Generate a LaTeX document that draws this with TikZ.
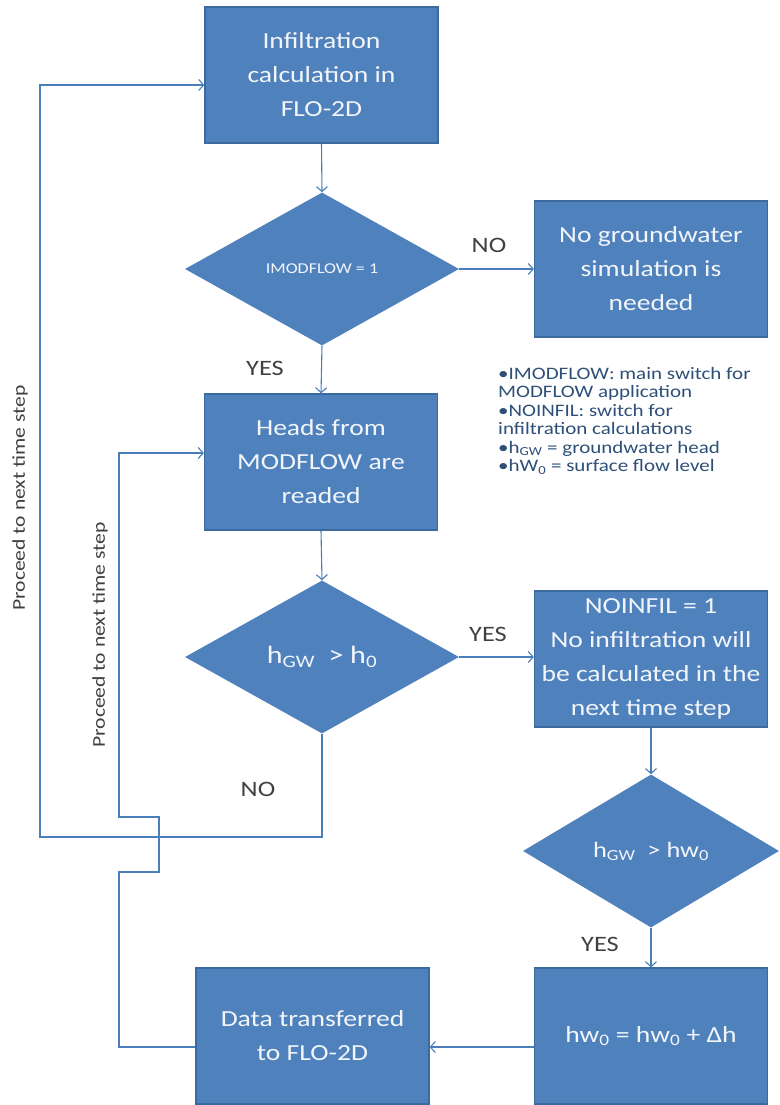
\documentclass[tikz,border=0pt]{standalone}
\usepackage{fontspec}
\setmainfont{Carlito}[FakeStretch=1.2]
\usetikzlibrary{shapes.geometric,arrows.meta}
\definecolor{boxblue}{HTML}{4F81BD}
\definecolor{boxedge}{HTML}{3D6A9E}
\definecolor{linecol}{HTML}{4A7EBB}
\definecolor{labcol}{HTML}{404040}
\definecolor{legcol}{HTML}{2E4F78}
\definecolor{boxtext}{HTML}{F2F6FB}
\begin{document}
\begin{tikzpicture}[x=1pt,y=-1pt,
 procbox/.style={rectangle,fill=boxblue,draw=boxedge,line width=1.2pt,minimum width=233pt,minimum height=136pt,inner sep=0pt,align=center,text=boxtext,font=\fontsize{23}{34}\selectfont},
 decide/.style={diamond,fill=boxblue,draw=none,minimum width=274pt,minimum height=153pt,inner sep=0pt,align=center,text=boxtext},
 conn/.style={draw=linecol,line width=1.1pt},
 arr/.style={conn,-{Straight Barb[length=5pt,width=11pt]}},
 lab/.style={text=labcol,font=\fontsize{22}{26}\selectfont},
 side/.style={text=labcol,font=\fontsize{18}{22}\selectfont,rotate=90}]
\useasboundingbox (0,0) rectangle (779,1105);

% process boxes
\node[procbox] (b1) at (321.5,75) {Infiltration\\calculation in\\FLO-2D};
\node[procbox] (bng) at (651,269) {No groundwater\\simulation is\\needed};
\node[procbox] (b2) at (321,462) {Heads from\\MODFLOW are\\readed};
\node[procbox] (bnoinf) at (651,659) {NOINFIL = 1\\No infiltration will\\be calculated in the\\next time step};
\node[procbox] (bhw) at (651,1036) {hw\textsubscript{0} = hw\textsubscript{0} + Δh};
\node[procbox] (bdata) at (312.5,1036) {Data transferred\\to FLO-2D};

% decisions
\node[decide,font=\fontsize{15}{18}\selectfont] (d1) at (322,269) {IMODFLOW = 1};
\node[decide,font=\fontsize{25}{30}\selectfont] (d2) at (322,657) {h\textsubscript{GW} \ > h\textsubscript{0}};
\node[decide,minimum width=256pt,font=\fontsize{22}{26}\selectfont] (d3) at (651,851) {h\textsubscript{GW} \ > hw\textsubscript{0}};

% legend
\node[anchor=north west,align=left,text=legcol,font=\fontsize{17.5}{18.5}\selectfont,inner sep=0pt] (leg) at (498,367)
 {•IMODFLOW: main switch for\\MODFLOW application\\•NOINFIL: switch for\\infiltration calculations\\•h\textsubscript{GW} = groundwater head\\•hW\textsubscript{0} = surface flow level};

% straight connectors
\draw[arr] (b1.south) -- (d1.north);
\draw[arr] (d1.east) -- (bng.west);
\draw[arr] (d1.south) -- (b2.north);
\draw[arr] (b2.south) -- (d2.north);
\draw[arr] (d2.east) -- (d2.east -| bnoinf.west);
\draw[arr] (bnoinf.south) -- (bnoinf.south |- d3.north);
\draw[arr] (d3.south) -- (d3.south |- bhw.north);
\coordinate (hwl) at ([yshift=-11pt]bhw.west);
\draw[arr] (hwl) -- (hwl -| bdata.east);

% outer loop
\coordinate (o1) at (322,837);
\coordinate (o2) at (40,837);
\coordinate (o3) at (40,85);
\coordinate (o4) at ([yshift=-10pt]b1.west);
\draw[arr] (d2.south) -- (o1) -- (o2) -- (o3) -- (o4);

% inner loop
\coordinate (i0) at ([yshift=-11pt]bdata.west);
\coordinate (i1) at (119,1047);
\coordinate (i2) at (119,872);
\coordinate (i3) at (159,872);
\coordinate (i4) at (159,817);
\coordinate (i5) at (119,817);
\coordinate (i6) at (119,453);
\coordinate (i7) at ([yshift=9pt]b2.west);
\draw[arr] (i0) -- (i1) -- (i2) -- (i3) -- (i4) -- (i5) -- (i6) -- (i7);

% labels
\node[lab] (lno1) at (489,245) {NO};
\node[lab] (lyes1) at (265,368) {YES};
\node[lab] (lyes2) at (488,634) {YES};
\node[lab] (lno2) at (258,789) {NO};
\node[lab] (lyes3) at (600,944) {YES};
\node[side] (p1) at (20,498) {Proceed to next time step};
\node[side] (p2) at (100,635) {Proceed to next time step};
\end{tikzpicture}
\end{document}
